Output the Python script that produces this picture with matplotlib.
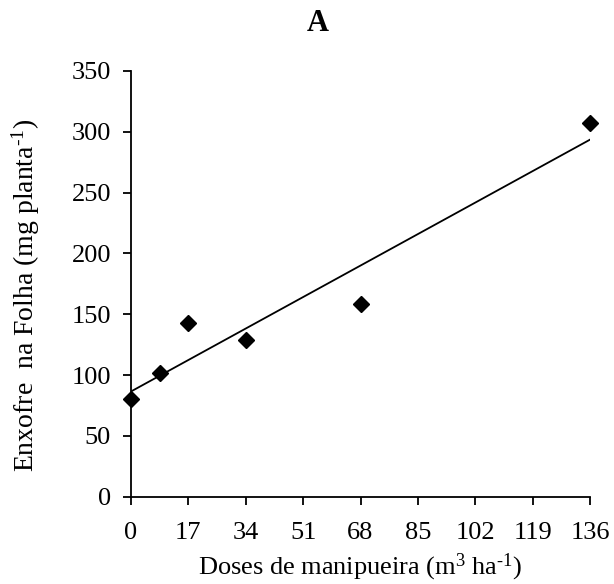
import numpy as np
import matplotlib
matplotlib.use("Agg")
import matplotlib.pyplot as plt

plt.rcParams['font.family'] = ['Liberation Serif', 'DejaVu Serif']
plt.rcParams['mathtext.fontset'] = 'custom'
plt.rcParams['mathtext.rm'] = 'Liberation Serif'
plt.rcParams['mathtext.default'] = 'rm'

# doses (m3/ha) and sulfur in leaf (mg/plant)
doses = [0, 8.5, 17, 34, 68, 136]
enxofre = [80.5, 101.6, 142.8, 129, 158.7, 307.6]
x_ticks = [0, 17, 34, 51, 68, 85, 102, 119, 136]
y_ticks = [0, 50, 100, 150, 200, 250, 300, 350]

fig = plt.figure(figsize=(6.14, 5.84), dpi=100)
ax = fig.add_axes([0.2134, 0.1495, 0.7476, 0.729])

# linear fit
b, a = np.polyfit(doses, enxofre, 1)
xf = np.array([doses[0], doses[-1]])
ax.plot(xf, a + b * xf, color='black', lw=1.3)
ax.plot(doses, enxofre, 'D', color='black', markersize=8, clip_on=False, zorder=3)

ax.set_xlim(0, 136)
ax.set_ylim(0, 350)
ax.set_xticks(x_ticks)
ax.set_yticks(y_ticks)
ax.spines['top'].set_visible(False)
ax.spines['right'].set_visible(False)
for s in ['left', 'bottom']:
    ax.spines[s].set_linewidth(1.3)
ax.tick_params(direction='out', length=5.5, width=1.3, labelsize=19)
ax.tick_params(axis='y', pad=9)
ax.tick_params(axis='x', pad=13)

ax.set_xlabel(r'Doses de manipueira (m$^{3}$ ha$^{\text{-}1}$)', fontsize=19, labelpad=5)
fig.text(10 / 614, 1 - 295.5 / 584, r'Enxofre  na Folha (mg planta$^{\text{-}1}$)',
         fontsize=20, rotation=90, ha='left', va='center')
fig.text(318 / 614, 1 - 23.5 / 584, 'A', fontsize=22, fontweight='bold', ha='center', va='center')

fig.savefig('out.png', dpi=100)
